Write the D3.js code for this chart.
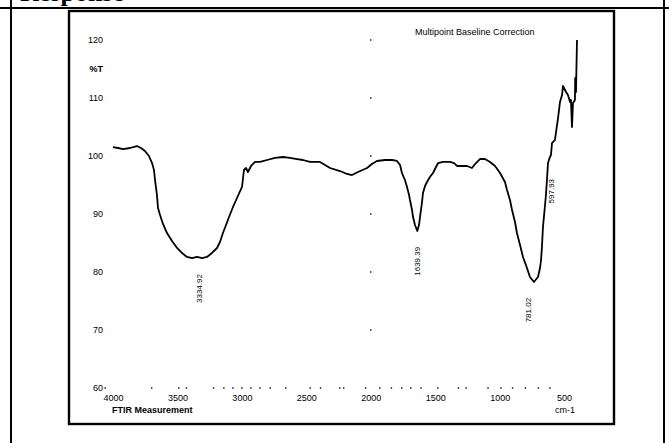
<!DOCTYPE html>
<html>
<head>
<meta charset="utf-8">
<script src="https://cdn.jsdelivr.net/npm/d3@7"></script>
<style>
  html, body { margin: 0; padding: 0; background: #fff; }
  svg { display: block; }
  text { font-family: "Liberation Sans", Arial, sans-serif; fill: #000; }
</style>
</head>
<body>
<svg id="chart" width="669" height="443"></svg>
<script>
// ---- data ----
const wavenumber = [4000,3961,3922,3868,3814,3783,3752,3721,3697,3682,3674,3659,3651,3635,3612,3581,3542,3503,3465,3426,3387,3348,3309,3271,3232,3193,3170,3147,3123,3100,3069,3038,2999,2991,2984,2968,2953,2929,2898,2859,2805,2743,2681,2627,2572,2526,2472,2394,2316,2239,2184,2146,2099,2029,1991,1952,1890,1835,1797,1773,1758,1735,1719,1703,1696,1680,1672,1657,1639,1626,1618,1603,1595,1579,1564,1541,1517,1494,1478,1440,1385,1354,1331,1308,1284,1253,1215,1184,1153,1114,1075,1036,997,959,943,920,904,881,866,842,819,788,765,734,703,687,679,672,664,648,641,633,625,610,602,594,571,555,547,532,516,509,485,470,454,447,439,431,416,414,408,400];
const transmittance = [101.55,101.38,101.2,101.38,101.72,101.38,100.86,100.0,98.79,97.59,95.86,93.28,91.03,89.83,88.28,86.72,85.34,84.14,83.28,82.59,82.41,82.59,82.41,82.59,83.28,84.14,85.17,86.72,88.10,89.48,91.21,92.76,94.66,96.21,97.59,97.93,97.24,98.28,98.97,98.97,99.31,99.66,99.83,99.66,99.48,99.31,98.97,98.97,97.93,97.41,96.90,96.72,97.24,97.93,98.62,99.14,99.31,99.31,99.14,98.45,97.07,95.86,94.66,93.28,92.41,90.69,89.48,88.10,87.07,88.10,89.48,91.90,93.62,94.83,95.52,96.38,97.07,98.10,98.79,98.97,98.97,98.79,98.28,98.28,98.28,98.28,97.93,98.79,99.48,99.48,98.97,98.28,97.07,95.52,94.14,92.41,90.69,88.62,86.72,84.66,82.59,80.69,79.14,78.28,79.14,80.69,82.07,84.31,87.76,91.55,93.28,95.86,98.79,99.83,100.17,102.24,102.76,105.34,106.55,109.31,110.52,112.07,111.03,110.52,109.31,109.66,105.0,109.14,109.66,113.45,111.03,120.0];

const peakWavenumber = [3334.92, 1639.39, 781.02, 597.93];
const peakLabel = ["3334.92", "1639.39", "781.02", "597.93"];
const peakT = [82.4, 87.1, 78.3, 98.8];

const xTicks = [4000, 3500, 3000, 2500, 2000, 1500, 1000, 500];
const yTicks = [120, 110, 100, 90, 80, 70, 60];
const gridYValues = [120, 110, 100, 90, 80, 70];
const xDots = [4060,3700,3490,3430,3220,3140,3070,3000,2930,2860,2780,2660,2470,2390,2240,2210,2040,1930,1840,1760,1690,1610,1480,1320,1260,1090,990,900,800,700,610];

const titleText = "Multipoint Baseline Correction";
const xTitle = "FTIR Measurement";
const xUnit = "cm-1";
const yUnit = "%T";
const headerText = "Response";

// ---- drawing ----
const svg = d3.select("#chart");
svg.append("rect").attr("width", 669).attr("height", 443).attr("fill", "#fff");

// surrounding table fragment
svg.append("text").attr("x", 20).attr("y", 1)
  .style("font-family", "'Liberation Serif', 'Times New Roman', serif")
  .style("font-weight", "bold").style("font-size", "26px")
  .text(headerText);
svg.append("line").attr("x1", 0).attr("x2", 669).attr("y1", 8).attr("y2", 8)
  .attr("stroke", "#000").attr("stroke-width", 2);
svg.append("line").attr("x1", 11).attr("x2", 11).attr("y1", 0).attr("y2", 443)
  .attr("stroke", "#000").attr("stroke-width", 2);
svg.append("line").attr("x1", 664).attr("x2", 664).attr("y1", 0).attr("y2", 443)
  .attr("stroke", "#000").attr("stroke-width", 2);

// chart frame
svg.append("rect").attr("x", 69).attr("y", 11).attr("width", 545).attr("height", 413)
  .attr("fill", "#fff").attr("stroke", "#000").attr("stroke-width", 2.4);

const x = d3.scaleLinear().domain([4000, 400]).range([113, 577]);
const y = d3.scaleLinear().domain([60, 120]).range([388, 40]);

// dotted x minor ticks on the 60 row
svg.append("g").selectAll("rect").data(xDots).join("rect")
  .attr("x", d => x(d) - 0.7).attr("y", y(60) - 0.7)
  .attr("width", 1.4).attr("height", 1.4).attr("fill", "#000");

// dots at 2000 column
svg.append("g").selectAll("rect").data(gridYValues).join("rect")
  .attr("x", x(2000) - 0.7).attr("y", d => y(d) - 0.7)
  .attr("width", 1.4).attr("height", 1.4).attr("fill", "#000");

// x axis labels
const xAxis = d3.axisBottom(x).tickValues(xTicks).tickSize(0).tickPadding(0)
  .tickFormat(d3.format("d"));
const gx = svg.append("g").attr("transform", "translate(0,395)").call(xAxis);
gx.select(".domain").remove();
gx.selectAll("text").style("font-size", "9px").style("font-family", "'Liberation Sans', Arial, sans-serif");

// y axis labels
const yAxis = d3.axisLeft(y).tickValues(yTicks).tickSize(0).tickPadding(0)
  .tickFormat(d3.format("d"));
const gy = svg.append("g").attr("transform", "translate(103,0)").call(yAxis);
gy.select(".domain").remove();
gy.selectAll("text").style("font-size", "9px").style("font-family", "'Liberation Sans', Arial, sans-serif");

// unit and titles
svg.append("text").attr("x", 103).attr("y", 72).attr("text-anchor", "end")
  .style("font-size", "9px").style("font-weight", "bold").text(yUnit);
svg.append("text").attr("x", 415).attr("y", 35)
  .style("font-size", "9px").text(titleText);
svg.append("text").attr("x", 112).attr("y", 413)
  .style("font-size", "9px").style("font-weight", "bold").text(xTitle);
svg.append("text").attr("x", 555).attr("y", 413)
  .style("font-size", "9px").text(xUnit);

// spectrum
const pts = wavenumber.map((w, i) => [w, transmittance[i]]);
const line = d3.line().x(d => x(d[0])).y(d => y(d[1]));
svg.append("path").datum(pts).attr("d", line)
  .attr("fill", "none").attr("stroke", "#000").attr("stroke-width", 1.8)
  .attr("stroke-linejoin", "round");

// peak labels
peakWavenumber.forEach((w, i) => {
  svg.append("text")
    .attr("transform", `translate(${x(w)},${y(peakT[i]) + 16}) rotate(-90)`)
    .attr("text-anchor", "end").attr("dy", "0.35em")
    .style("font-size", "8px")
    .text(peakLabel[i]);
});
</script>
</body>
</html>
